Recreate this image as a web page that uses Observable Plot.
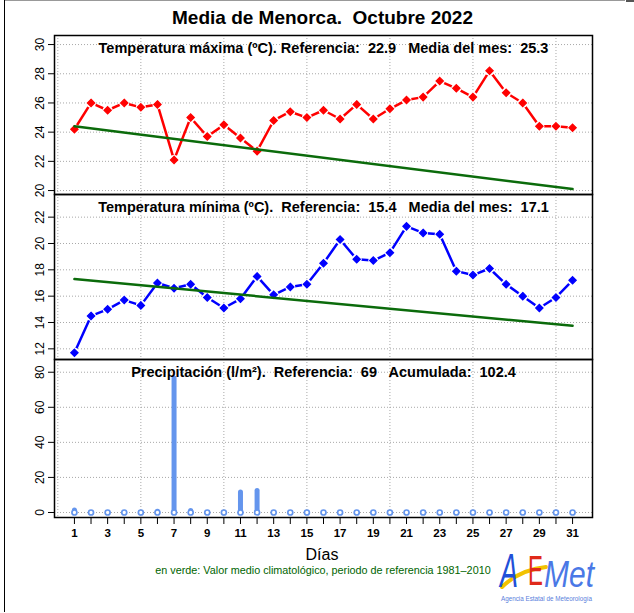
<!DOCTYPE html>
<html>
<head>
<meta charset="utf-8">
<script src="https://cdn.jsdelivr.net/npm/d3@7"></script>
<script src="https://cdn.jsdelivr.net/npm/@observablehq/plot@0.6"></script>
<style>
  html, body { margin: 0; padding: 0; background: #fff; }
  #wrap { position: relative; width: 634px; height: 613px; overflow: hidden; font-family: "Liberation Sans", Arial, Helvetica, sans-serif; }
  .abs { position: absolute; }
  svg text { white-space: pre; }
  #title { left: 0; width: 645px; top: 8px; text-align: center; font-size: 19px; font-weight: bold; line-height: 20px; white-space: pre; }
  #xlab { left: 0; width: 644px; top: 545px; text-align: center; font-size: 16px; line-height: 20px; }
  #cap { left: 0; width: 646px; top: 564px; text-align: center; font-size: 10.8px; line-height: 13px; color: #006400; }
</style>
</head>
<body>
<div id="wrap">
  <div class="abs" style="left:4px;top:0;width:1px;height:612px;background:#000"></div>
  <div class="abs" style="left:5px;top:0;width:620px;height:1px;background:#999"></div>
  <div class="abs" style="left:626px;top:0;width:8px;height:2px;background:#555"></div>
  <div id="title" class="abs">Media de Menorca.  Octubre 2022</div>
  <div id="p1" class="abs" style="left:0;top:0"></div>
  <div id="p2" class="abs" style="left:0;top:193px"></div>
  <div id="p3" class="abs" style="left:0;top:358px"></div>
  <div id="xlab" class="abs">Días</div>
  <div id="cap" class="abs">en verde: Valor medio climatológico, periodo de referencia 1981–2010</div>
  <svg class="abs" style="left:496px;top:540px;overflow:visible" width="120" height="70">
    <path d="M6,47 C18,35 32,29 50,27" stroke="#f2c200" stroke-width="4" fill="none" stroke-linecap="round"/>
    <text transform="translate(4,47) scale(0.75,1.35)" font-size="36" font-style="italic" fill="#2150d8" font-family="Liberation Sans, Arial, sans-serif">A</text>
    <text transform="translate(32,45) scale(0.62,1.2)" font-size="36" fill="#e02a1a" font-family="Liberation Sans, Arial, sans-serif">E</text>
    <text x="48" y="47" font-size="36" font-style="italic" fill="#4a78e6" textLength="50" lengthAdjust="spacingAndGlyphs" font-family="Liberation Sans, Arial, sans-serif">Met</text>
    <text x="5" y="61" font-size="7.5" fill="#5a80dc" textLength="91" lengthAdjust="spacingAndGlyphs" font-family="Liberation Sans, Arial, sans-serif">Agencia Estatal de Meteorología</text>
  </svg>
</div>
<script>
// ---- data ----
const days = [1,2,3,4,5,6,7,8,9,10,11,12,13,14,15,16,17,18,19,20,21,22,23,24,25,26,27,28,29,30,31];
const tmax = [24.2,26.0,25.5,26.0,25.7,25.9,22.1,25.0,23.7,24.5,23.6,22.7,24.8,25.4,25.0,25.5,24.9,25.9,24.9,25.6,26.2,26.4,27.5,27.0,26.4,28.2,26.7,26.0,24.4,24.4,24.3];
const tmin = [11.7,14.5,15.0,15.7,15.3,17.0,16.6,16.9,15.9,15.1,15.8,17.5,16.1,16.7,16.9,18.5,20.3,18.8,18.7,19.3,21.3,20.8,20.7,17.9,17.6,18.1,16.9,16.0,15.1,15.9,17.2];
const precip = [1.2,0,0,0,0,0.4,76.4,0.8,0,0,11.4,12.2,0,0,0,0,0,0,0,0,0,0,0,0,0,0,0,0,0,0,0];
const refDays = [1, 31];
const refMax = [24.4, 20.1];
const refMin = [17.3, 13.75];
const gridDays = [0,5,10,15,20,25,30];
const ticksMax = [20,22,24,26,28,30];
const ticksMin = [12,14,16,18,20,22];
const ticksPrec = [0,20,40,60,80];
const titleMax = "Temperatura máxima (ºC). Referencia:  22.9   Media del mes:  25.3";
const titleMin = "Temperatura mínima (ºC).  Referencia:  15.4   Media del mes:  17.1";
const titlePrec = "Precipitación (l/m²).  Referencia:  69   Acumulada:  102.4";

const maxData = days.map((d, i) => ({day: d, v: tmax[i]}));
const minData = days.map((d, i) => ({day: d, v: tmin[i]}));
const precData = days.map((d, i) => ({day: d, v: precip[i]}));
const refMaxData = refDays.map((d, i) => ({day: d, v: refMax[i]}));
const refMinData = refDays.map((d, i) => ({day: d, v: refMin[i]}));

const FONT = "Liberation Sans, Arial, Helvetica, sans-serif";
const GRID = {stroke: "#a8a8a8", strokeOpacity: 1, strokeDasharray: "1,2", strokeWidth: 1};
const XDOM = [-0.2, 32.2];

function yAxis(ticks) {
  return Plot.axisY(ticks, {tickSize: 6, tickPadding: 5, tickRotate: -90, fontSize: 12, label: null});
}

function tempPanel(data, ref, color, ticks, ydom, title, height, mt, mb) {
  return Plot.plot({
    width: 634, height, marginTop: mt, marginBottom: mb, marginLeft: 54, marginRight: 42,
    style: {fontFamily: FONT, background: "transparent", overflow: "visible", color: "#000"},
    x: {domain: XDOM, axis: null},
    y: {domain: ydom, axis: null},
    marks: [
      Plot.gridX(gridDays, GRID),
      Plot.gridY(ticks, GRID),
      yAxis(ticks),
      Plot.line(data, {x: "day", y: "v", stroke: color, strokeWidth: 2.5}),
      Plot.dot(data, {x: "day", y: "v", r: 5, fill: "white", stroke: "none"}),
      Plot.dot(data, {x: "day", y: "v", r: 3.3, symbol: "diamond2", fill: color, stroke: color, strokeWidth: 1.2}),
      Plot.line(ref, {x: "day", y: "v", stroke: "#0b6b0b", strokeWidth: 2.5}),
      Plot.text([title], {frameAnchor: "top", dy: 13, lineAnchor: "middle", text: d => d, fontSize: 14.5, fontWeight: "bold", fill: "#000"}),
      Plot.frame({stroke: "#000", strokeWidth: 1.5})
    ]
  });
}

document.getElementById("p1").append(
  tempPanel(maxData, refMaxData, "#ff0000", ticksMax, [19.73, 30.62], titleMax, 195, 35, 1)
);
document.getElementById("p2").append(
  tempPanel(minData, refMinData, "#0000ff", ticksMin, [11.19, 23.72], titleMin, 167, 1, 1)
);

const p3 = Plot.plot({
  width: 634, height: 190, marginTop: 1, marginBottom: 31, marginLeft: 54, marginRight: 42,
  style: {fontFamily: FONT, background: "transparent", overflow: "visible", color: "#000"},
  x: {domain: XDOM, axis: null},
  y: {domain: [-2.86, 87.26], axis: null},
  marks: [
    Plot.gridX(gridDays, GRID),
    Plot.gridY(ticksPrec, GRID),
    yAxis(ticksPrec),
    Plot.axisX(days, {tickSize: 7, tickPadding: 4, fontSize: 11.5, fontWeight: "bold", label: null, tickFormat: d => (d % 2 === 1 ? String(d) : "")}),
    Plot.ruleX(precData.filter(d => d.v > 0), {x: "day", y1: 0, y2: "v", stroke: "#6495ed", strokeWidth: 5, strokeLinecap: "round"}),
    Plot.dot(precData, {x: "day", y: 0, r: 2.5, fill: "white", stroke: "#6495ed", strokeWidth: 1.7}),
    Plot.text([titlePrec], {frameAnchor: "top", dy: 13, lineAnchor: "middle", text: d => d, fontSize: 14.5, fontWeight: "bold", fill: "#000"}),
    Plot.frame({stroke: "#000", strokeWidth: 1.5})
  ]
});
document.getElementById("p3").append(p3);
</script>
</body>
</html>
